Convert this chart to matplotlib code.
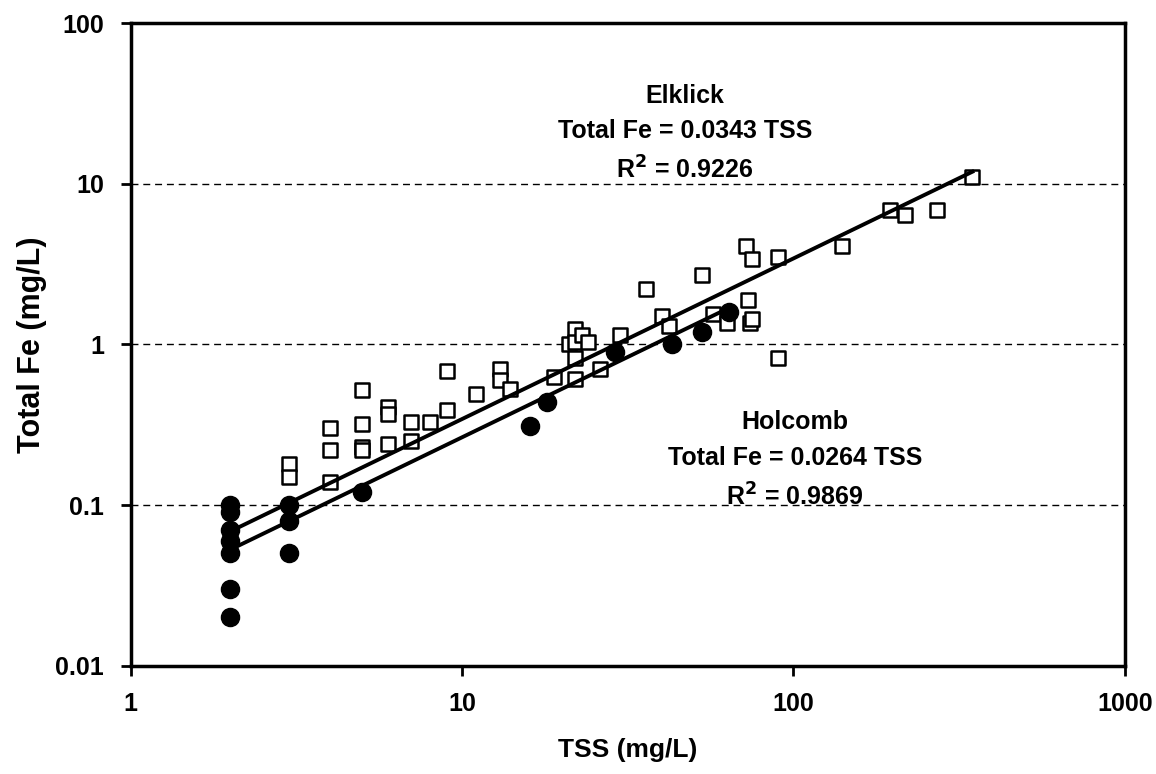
import matplotlib as mpl
mpl.use('Agg')
import matplotlib.pyplot as plt
import numpy as np

plt.rcParams['font.family'] = ['Liberation Sans', 'DejaVu Sans']
plt.rcParams['font.weight'] = 'bold'

# Elklick samples (open squares)
elk_tss = [3, 3, 4, 4, 4, 5, 5, 5, 5, 6, 6, 6, 7, 7, 8, 9, 9, 11, 13, 13, 14, 19,
           21, 22, 22, 22, 22, 23, 24, 26, 30, 36, 40, 42, 53, 57, 63, 72, 73,
           74, 75, 75, 90, 90, 140, 195, 217, 272, 347]
elk_fe = [0.18, 0.15, 0.30, 0.22, 0.14, 0.52, 0.32, 0.23, 0.22, 0.41, 0.37, 0.24,
          0.33, 0.25, 0.33, 0.68, 0.39, 0.49, 0.70, 0.60, 0.53, 0.63,
          1.0, 1.25, 1.04, 0.82, 0.61, 1.15, 1.04, 0.70, 1.15, 2.2, 1.5, 1.3,
          2.7, 1.55, 1.35, 4.1, 1.9, 1.35, 1.45, 3.4, 3.5, 0.82, 4.1, 6.9, 6.4, 6.9, 11.0]

# Holcomb samples (filled circles)
hol_tss = [2, 2, 2, 2, 2, 2, 2, 3, 3, 3, 5, 16, 18, 29, 43, 53, 64]
hol_fe = [0.10, 0.09, 0.07, 0.06, 0.05, 0.03, 0.02, 0.10, 0.08, 0.05, 0.12,
          0.31, 0.44, 0.90, 1.0, 1.2, 1.6]

elk_slope = 0.0343
hol_slope = 0.0264
elk_range = [2, 347]
hol_range = [2, 64]

fig = plt.figure(figsize=[11.56, 7.74], dpi=100)
ax = fig.add_axes([0.113, 0.140, 0.860, 0.830])

for yv in [0.1, 1, 10]:
    ax.axhline(yv, color='black', linestyle=(0, (5, 3.5)), linewidth=1, zorder=1)

ax.scatter(elk_tss, elk_fe, marker='s', s=115, facecolors='white',
           edgecolors='black', linewidths=1.8, zorder=3)
ax.scatter(hol_tss, hol_fe, marker='o', s=170, color='black', zorder=4)

xe = np.array(elk_range)
ax.plot(xe, elk_slope * xe, color='black', linewidth=2.8, zorder=5)
xh = np.array(hol_range)
ax.plot(xh, hol_slope * xh, color='black', linewidth=2.8, zorder=5)

ax.set_xscale('log')
ax.set_yscale('log')
ax.set_xlim(1, 1000)
ax.set_ylim(0.01, 100)
ax.set_xticks([1, 10, 100, 1000])
ax.set_xticklabels(['1', '10', '100', '1000'])
ax.set_yticks([0.01, 0.1, 1, 10, 100])
ax.set_yticklabels(['0.01', '0.1', '1', '10', '100'])
ax.minorticks_off()
ax.tick_params(labelsize=18, length=7, width=2, direction='out', pad=12)

for s in ax.spines.values():
    s.set_linewidth(2.5)

ax.set_xlabel('TSS (mg/L)', fontsize=19, fontweight='bold', labelpad=16)
ax.set_ylabel('Total Fe (mg/L)', fontsize=22, fontweight='bold', labelpad=6)

ax.text(47, 20.5, 'Elklick\nTotal Fe = 0.0343 TSS\nR$^\\mathbf{2}$ = 0.9226', ha='center', va='center',
        fontsize=18, fontweight='bold', linespacing=1.6)
ax.text(101, 0.19, 'Holcomb\nTotal Fe = 0.0264 TSS\nR$^\\mathbf{2}$ = 0.9869', ha='center', va='center',
        fontsize=18, fontweight='bold', linespacing=1.6)

plt.savefig('out.png', dpi=100)
plt.close()
